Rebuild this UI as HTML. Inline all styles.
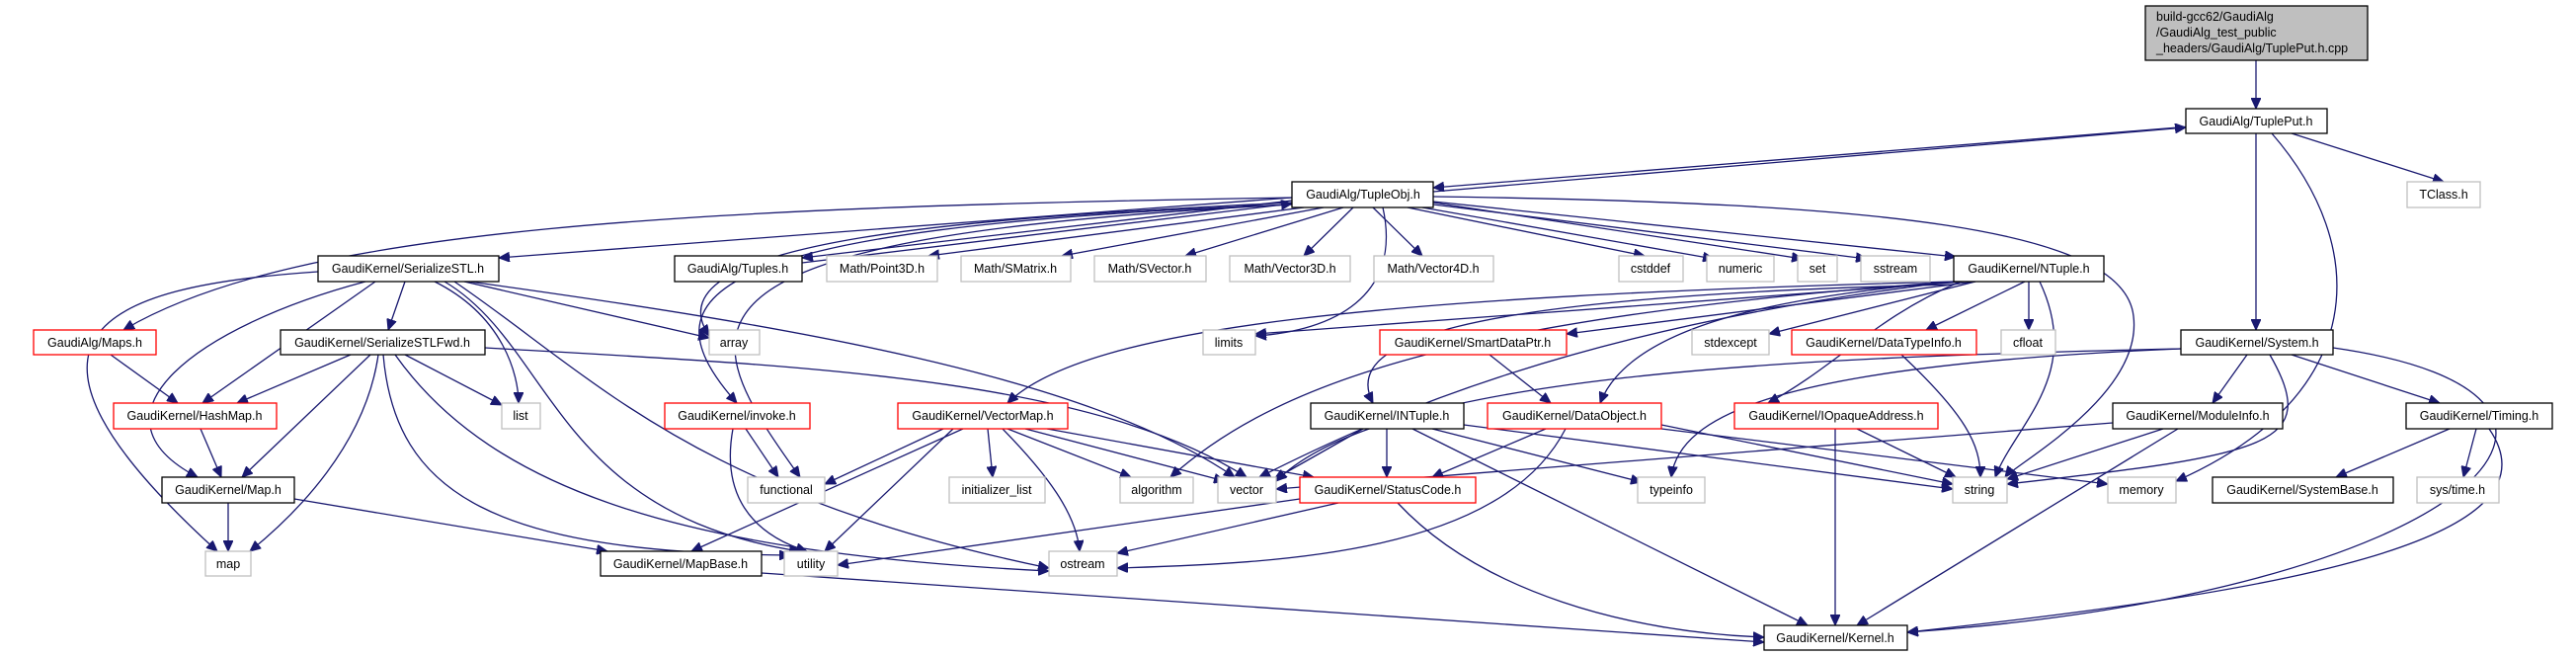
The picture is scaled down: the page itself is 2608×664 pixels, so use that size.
<!DOCTYPE html>
<html><head><meta charset="utf-8"><style>
body{margin:0;background:#fff;}
svg{display:block;}
text{font-family:"Liberation Sans",sans-serif;font-size:12.5px;fill:#000;}
.e{fill:none;stroke:#191970;stroke-width:1.3;marker-end:url(#a);}
.b{fill:#fff;stroke:#000;stroke-width:1.3}
.r{fill:#fff;stroke:#ff0000;stroke-width:1.3}
.g{fill:#fff;stroke:#bfbfbf;stroke-width:1.3}
</style></head><body>
<svg width="2608" height="664" viewBox="0 0 2608 664" xmlns="http://www.w3.org/2000/svg">
<defs><marker id="a" markerUnits="userSpaceOnUse" markerWidth="12" markerHeight="10" refX="11" refY="5" orient="auto"><path d="M0 0 L11 5 L0 10 z" fill="#191970" stroke="#191970"/></marker></defs>
<g>
<path class="e" d="M2284 61 L2284 110"/>
<path class="e" d="M2230 127 L1451 190"/>
<path class="e" d="M1451 194 L2213 129"/>
<path class="e" d="M2320 135 L2474 184"/>
<path class="e" d="M2284 135 L2284 334"/>
<path class="e" d="M2300 135 C2400 250 2400 400 2203 487"/>
<path class="e" d="M1308 200 L505 261"/>
<path class="e" d="M1308 203 L812 261"/>
<path class="e" d="M812 266 L1308 206"/>
<path class="e" d="M1320 210 L940 259"/>
<path class="e" d="M1340 210 L1075 259"/>
<path class="e" d="M1360 210 L1200 259"/>
<path class="e" d="M1370 210 L1320 259"/>
<path class="e" d="M1390 210 L1440 259"/>
<path class="e" d="M1425 210 L1665 259"/>
<path class="e" d="M1440 210 L1735 262"/>
<path class="e" d="M1451 205 L1825 262"/>
<path class="e" d="M1451 207 L1890 262"/>
<path class="e" d="M1451 204 L1980 260"/>
<path class="e" d="M1451 199 C1900 205 2150 230 2160 320 C2170 400 2040 470 2030 483"/>
<path class="e" d="M1308 200 C700 210 300 230 125 334"/>
<path class="e" d="M1308 205 C1000 220 650 240 718 340"/>
<path class="e" d="M1400 210 C1420 300 1350 335 1271 340"/>
<path class="e" d="M1308 207 C700 230 650 300 746 408"/>
<path class="e" d="M1308 207 C650 240 700 330 810 483"/>
<path class="e" d="M322 275 C100 290 -20 340 220 558"/>
<path class="e" d="M370 285 C200 330 80 420 200 483"/>
<path class="e" d="M380 285 L205 408"/>
<path class="e" d="M410 285 L393 334"/>
<path class="e" d="M440 285 C510 320 525 380 525 408"/>
<path class="e" d="M470 285 L718 342"/>
<path class="e" d="M450 285 C560 350 560 520 810 558"/>
<path class="e" d="M460 285 C600 380 700 500 1062 575"/>
<path class="e" d="M475 285 C800 330 1100 380 1250 483"/>
<path class="e" d="M355 359 L240 408"/>
<path class="e" d="M375 359 L245 483"/>
<path class="e" d="M383 359 C370 450 300 520 253 558"/>
<path class="e" d="M410 359 L508 410"/>
<path class="e" d="M388 359 C400 500 500 560 800 562"/>
<path class="e" d="M400 359 C500 500 700 560 1062 578"/>
<path class="e" d="M491 352 C800 370 1100 380 1262 483"/>
<path class="e" d="M112 359 L180 408"/>
<path class="e" d="M203 434 L224 483"/>
<path class="e" d="M231 509 L231 558"/>
<path class="e" d="M298 505 L615 558"/>
<path class="e" d="M771 580 L1786 650"/>
<path class="e" d="M755 434 L788 483"/>
<path class="e" d="M742 434 C730 500 760 540 817 558"/>
<path class="e" d="M1000 434 L1005 483"/>
<path class="e" d="M1020 434 L1145 483"/>
<path class="e" d="M1038 434 L1240 487"/>
<path class="e" d="M1060 434 L1330 483"/>
<path class="e" d="M1015 434 C1060 480 1090 520 1093 558"/>
<path class="e" d="M965 434 L835 558"/>
<path class="e" d="M975 434 L700 558"/>
<path class="e" d="M955 434 L835 490"/>
<path class="e" d="M1990 285 L1271 338"/>
<path class="e" d="M2000 285 L1586 338"/>
<path class="e" d="M2000 285 L1791 338"/>
<path class="e" d="M2050 285 L1950 334"/>
<path class="e" d="M2054 285 L2054 334"/>
<path class="e" d="M2065 285 C2110 380 2040 430 2020 483"/>
<path class="e" d="M1978 285 C1800 300 1650 330 1620 408"/>
<path class="e" d="M1985 285 C1900 320 1860 370 1790 408"/>
<path class="e" d="M1978 288 C1450 300 1360 350 1390 408"/>
<path class="e" d="M1978 285 C1400 300 1100 330 1020 408"/>
<path class="e" d="M1978 285 C1500 320 1300 380 1185 483"/>
<path class="e" d="M1978 285 C1600 330 1400 420 1275 483"/>
<path class="e" d="M1508 359 L1570 408"/>
<path class="e" d="M1925 359 C1990 420 2005 450 2005 483"/>
<path class="e" d="M1565 434 L1450 483"/>
<path class="e" d="M1585 434 C1520 560 1300 570 1131 575"/>
<path class="e" d="M1682 430 L1977 490"/>
<path class="e" d="M1682 434 L2134 490"/>
<path class="e" d="M1380 434 L1290 485"/>
<path class="e" d="M1404 434 L1404 483"/>
<path class="e" d="M1450 434 L1662 488"/>
<path class="e" d="M1482 430 L1977 495"/>
<path class="e" d="M1430 434 L1830 633"/>
<path class="e" d="M1316 505 L848 572"/>
<path class="e" d="M1355 509 L1131 560"/>
<path class="e" d="M1415 509 C1500 600 1650 640 1786 645"/>
<path class="e" d="M1880 434 L1980 483"/>
<path class="e" d="M1858 434 L1858 633"/>
<path class="e" d="M2275 359 L2240 408"/>
<path class="e" d="M2320 359 L2470 408"/>
<path class="e" d="M2298 359 C2350 450 2300 460 2032 490"/>
<path class="e" d="M2208 353 C1800 370 1700 420 1692 483"/>
<path class="e" d="M2208 353 C1800 362 1400 380 1292 487"/>
<path class="e" d="M2362 352 C2700 400 2500 600 1931 640"/>
<path class="e" d="M2190 434 L2032 485"/>
<path class="e" d="M2205 434 L1880 633"/>
<path class="e" d="M2139 428 L1292 495"/>
<path class="e" d="M2480 434 L2365 483"/>
<path class="e" d="M2507 434 L2494 483"/>
<path class="e" d="M2520 434 C2600 550 2300 600 1931 640"/>
</g>
<g>
<rect x="2172" y="6" width="225" height="55" fill="#bfbfbf" stroke="#000" stroke-width="1.3"/>
<text x="2183" y="21">build-gcc62/GaudiAlg</text>
<text x="2183" y="37">/GaudiAlg_test_public</text>
<text x="2183" y="53">_headers/GaudiAlg/TuplePut.h.cpp</text>
</g>
<g text-anchor="middle">
<rect class="b" x="2213" y="110" width="143" height="25"/><text x="2284" y="127">GaudiAlg/TuplePut.h</text>
<rect class="b" x="1308" y="184" width="143" height="26"/><text x="1380" y="201">GaudiAlg/TupleObj.h</text>
<rect class="g" x="2437" y="184" width="74" height="26"/><text x="2474" y="201">TClass.h</text>

<rect class="b" x="322" y="259" width="183" height="26"/><text x="413" y="276">GaudiKernel/SerializeSTL.h</text>
<rect class="b" x="683" y="259" width="129" height="26"/><text x="747" y="276">GaudiAlg/Tuples.h</text>
<rect class="g" x="837" y="259" width="112" height="26"/><text x="893" y="276">Math/Point3D.h</text>
<rect class="g" x="973" y="259" width="111" height="26"/><text x="1028" y="276">Math/SMatrix.h</text>
<rect class="g" x="1108" y="259" width="113" height="26"/><text x="1164" y="276">Math/SVector.h</text>
<rect class="g" x="1245" y="259" width="122" height="26"/><text x="1306" y="276">Math/Vector3D.h</text>
<rect class="g" x="1391" y="259" width="121" height="26"/><text x="1451" y="276">Math/Vector4D.h</text>
<rect class="g" x="1639" y="259" width="65" height="26"/><text x="1671" y="276">cstddef</text>
<rect class="g" x="1728" y="259" width="68" height="26"/><text x="1762" y="276">numeric</text>
<rect class="g" x="1820" y="259" width="40" height="26"/><text x="1840" y="276">set</text>
<rect class="g" x="1884" y="259" width="70" height="26"/><text x="1919" y="276">sstream</text>
<rect class="b" x="1978" y="259" width="152" height="26"/><text x="2054" y="276">GaudiKernel/NTuple.h</text>

<rect class="r" x="34" y="334" width="124" height="25"/><text x="96" y="351">GaudiAlg/Maps.h</text>
<rect class="b" x="284" y="334" width="207" height="25"/><text x="387" y="351">GaudiKernel/SerializeSTLFwd.h</text>
<rect class="g" x="718" y="334" width="51" height="25"/><text x="743" y="351">array</text>
<rect class="g" x="1218" y="334" width="53" height="25"/><text x="1244" y="351">limits</text>
<rect class="r" x="1397" y="334" width="189" height="25"/><text x="1491" y="351">GaudiKernel/SmartDataPtr.h</text>
<rect class="g" x="1713" y="334" width="78" height="25"/><text x="1752" y="351">stdexcept</text>
<rect class="r" x="1814" y="334" width="187" height="25"/><text x="1907" y="351">GaudiKernel/DataTypeInfo.h</text>
<rect class="g" x="2026" y="334" width="55" height="25"/><text x="2053" y="351">cfloat</text>
<rect class="b" x="2208" y="334" width="154" height="25"/><text x="2285" y="351">GaudiKernel/System.h</text>

<rect class="r" x="115" y="408" width="165" height="26"/><text x="197" y="425">GaudiKernel/HashMap.h</text>
<rect class="g" x="508" y="408" width="39" height="26"/><text x="527" y="425">list</text>
<rect class="r" x="673" y="408" width="147" height="26"/><text x="746" y="425">GaudiKernel/invoke.h</text>
<rect class="r" x="909" y="408" width="172" height="26"/><text x="995" y="425">GaudiKernel/VectorMap.h</text>
<rect class="b" x="1327" y="408" width="155" height="26"/><text x="1404" y="425">GaudiKernel/INTuple.h</text>
<rect class="r" x="1506" y="408" width="176" height="26"/><text x="1594" y="425">GaudiKernel/DataObject.h</text>
<rect class="r" x="1756" y="408" width="206" height="26"/><text x="1859" y="425">GaudiKernel/IOpaqueAddress.h</text>
<rect class="b" x="2139" y="408" width="172" height="26"/><text x="2225" y="425">GaudiKernel/ModuleInfo.h</text>
<rect class="b" x="2436" y="408" width="148" height="26"/><text x="2510" y="425">GaudiKernel/Timing.h</text>

<rect class="b" x="164" y="483" width="134" height="26"/><text x="231" y="500">GaudiKernel/Map.h</text>
<rect class="g" x="757" y="483" width="78" height="26"/><text x="796" y="500">functional</text>
<rect class="g" x="961" y="483" width="97" height="26"/><text x="1009" y="500">initializer_list</text>
<rect class="g" x="1134" y="483" width="74" height="26"/><text x="1171" y="500">algorithm</text>
<rect class="g" x="1233" y="483" width="59" height="26"/><text x="1262" y="500">vector</text>
<rect class="r" x="1316" y="483" width="178" height="26"/><text x="1405" y="500">GaudiKernel/StatusCode.h</text>
<rect class="g" x="1658" y="483" width="68" height="26"/><text x="1692" y="500">typeinfo</text>
<rect class="g" x="1977" y="483" width="55" height="26"/><text x="2004" y="500">string</text>
<rect class="g" x="2134" y="483" width="69" height="26"/><text x="2168" y="500">memory</text>
<rect class="b" x="2240" y="483" width="183" height="26"/><text x="2331" y="500">GaudiKernel/SystemBase.h</text>
<rect class="g" x="2447" y="483" width="83" height="26"/><text x="2488" y="500">sys/time.h</text>

<rect class="g" x="208" y="558" width="46" height="25"/><text x="231" y="575">map</text>
<rect class="b" x="608" y="558" width="163" height="25"/><text x="689" y="575">GaudiKernel/MapBase.h</text>
<rect class="g" x="794" y="558" width="54" height="25"/><text x="821" y="575">utility</text>
<rect class="g" x="1062" y="558" width="69" height="25"/><text x="1096" y="575">ostream</text>
<rect class="b" x="1786" y="633" width="145" height="25"/><text x="1858" y="650">GaudiKernel/Kernel.h</text>
</g>
</svg>
</body></html>
